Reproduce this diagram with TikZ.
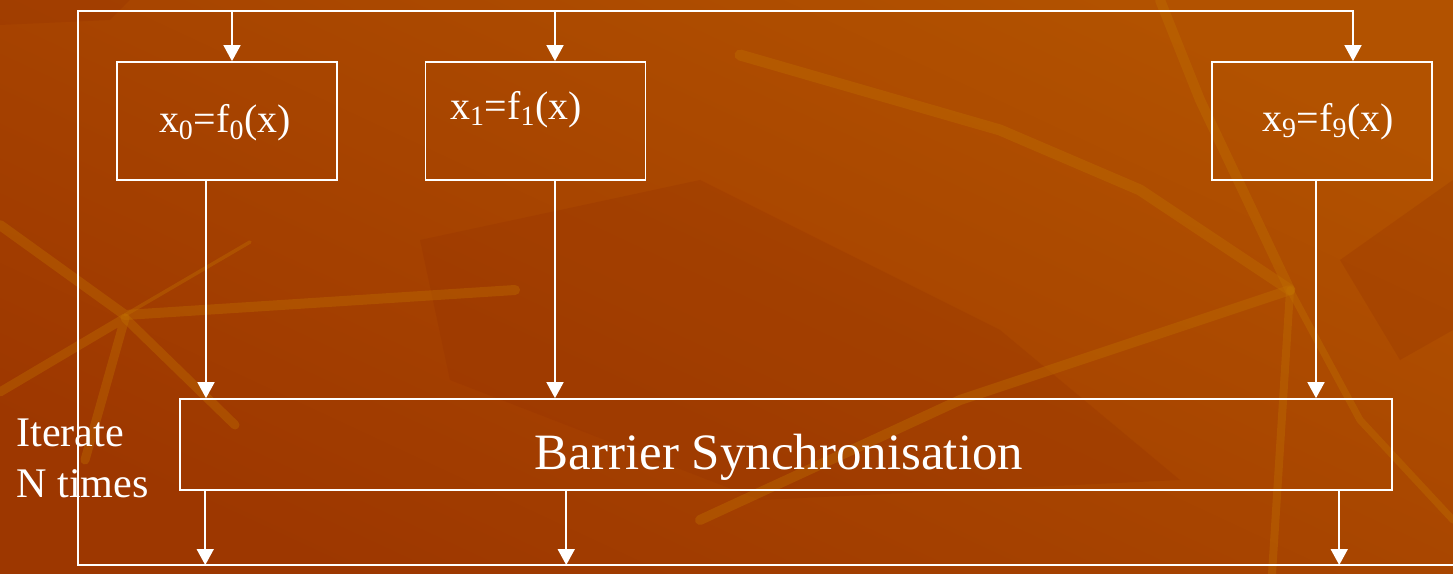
\documentclass[tikz,border=0pt]{standalone}
\usepackage{fontspec}
\setmainfont{Liberation Serif}
\usetikzlibrary{arrows.meta,positioning,calc}
\definecolor{fondoClaro}{RGB}{178,82,0}
\definecolor{fondoOscuro}{RGB}{157,55,0}
\definecolor{vetaClara}{RGB}{192,112,0}
\definecolor{vetaOscura}{RGB}{145,45,0}

\begin{document}
\begin{tikzpicture}[x=0.02cm, y=-0.02cm,
      task/.style    = {rectangle, draw=white, line width=1pt, inner sep=0pt,
          minimum width=4.4cm, minimum height=2.36cm},
      barrier/.style = {rectangle, draw=white, line width=1pt, inner sep=0pt,
          minimum width=24.24cm, minimum height=1.82cm},
      flow/.style    = {-{Triangle[length=0.32cm,width=0.34cm]}, draw=white, line width=1pt},
      lbl/.style     = {text=white, inner sep=0pt, font=\fontsize{22.7}{27}\selectfont},
      biglbl/.style  = {text=white, inner sep=0pt, font=\fontsize{29}{35}\selectfont},
      side/.style    = {text=white, inner sep=0pt, align=left, font=\fontsize{24}{29}\selectfont},
      vein/.style    = {draw=vetaClara, opacity=0.38, line cap=round, line join=round},
      shadow/.style  = {fill=vetaOscura, opacity=0.22},
    ]
    % ── Fondo ────────────────────────────────────────────────────
    \useasboundingbox (0,0) rectangle (1453,574);
    \shade[top color=fondoClaro, bottom color=fondoOscuro, shading angle=-25] (0,0) rectangle (1453,574);
    \fill[shadow] (0,0) -- (130,0) -- (110,20) -- (0,25) -- cycle;
    \fill[shadow] (420,240) -- (700,180) -- (1000,330) -- (1180,480) -- (760,500) -- (450,380) -- cycle;
    \fill[shadow] (1340,260) -- (1453,180) -- (1453,330) -- (1400,360) -- cycle;

    % ── Vetas ────────────────────────────────────────────────────
    \draw[vein, line width=0.2cm]  (0,225) -- (125,315) -- (515,290);
    \draw[vein, line width=0.18cm] (0,392) -- (125,318) -- (85,460);
    \draw[vein, line width=0.18cm] (125,318) -- (235,425);
    \draw[vein, line width=0.07cm] (125,315) -- (250,242);
    \draw[vein, line width=0.22cm] (740,55) -- (1000,130) -- (1140,190) -- (1290,290);
    \draw[vein, line width=0.2cm]  (1160,0) -- (1200,100) -- (1290,290);
    \draw[vein, line width=0.2cm]  (1290,290) -- (960,400) -- (700,520);
    \draw[vein, line width=0.16cm] (1290,290) -- (1272,574);
    \draw[vein, line width=0.14cm] (1290,290) -- (1360,420) -- (1453,520);

    % ── Tareas ───────────────────────────────────────────────────
    \node[task] (f0) at (227,121)   {};
    \node[task] (f1) at (535.5,121) {};
    \node[task] (f9) at (1322,121)  {};
    \node[lbl, anchor=base] (t0) at ($(f0.center)+(-2,12)$)    {x\textsubscript{0}=f\textsubscript{0}(x)};
    \node[lbl, anchor=base] (t1) at ($(f1.center)+(-19.5,-1)$) {x\textsubscript{1}=f\textsubscript{1}(x)};
    \node[lbl, anchor=base] (t9) at ($(f9.center)+(6,11)$)     {x\textsubscript{9}=f\textsubscript{9}(x)};

    % ── Barrera ──────────────────────────────────────────────────
    \node[barrier] (bar) at (786,444.5) {};
    \node[biglbl, anchor=base] (bartxt) at ($(bar.center)+(-7,25)$) {Barrier Synchronisation};
    \node[side, anchor=west] (iter) at (16,458) {Iterate\\N times};

    % ── Bucle ────────────────────────────────────────────────────
    \coordinate (tl) at (78,11);
    \coordinate (bl) at (78,565);
    \coordinate (br) at (1453,565);
    \coordinate (in0)  at ($(f0.north)+(5,0)$);
    \coordinate (in1)  at ($(f1.north)+(19.5,0)$);
    \coordinate (in9)  at ($(f9.north)+(31,0)$);
    \coordinate (out0) at ($(f0.south)+(-21,0)$);
    \coordinate (out1) at ($(f1.south)+(19.5,0)$);
    \coordinate (out9) at ($(f9.south)+(-6,0)$);
    \coordinate (dn0)  at ($(bar.south west)+(26,0)$);
    \coordinate (dn1)  at ($(bar.south west)+(387,0)$);
    \coordinate (dn9)  at ($(bar.south west)+(1160,0)$);

    \draw[flow] (br) -- (bl) -- (tl) -| (in9);
    \draw[flow] (tl -| in0) -- (in0);
    \draw[flow] (tl -| in1) -- (in1);

    \draw[flow] (out0) -- (out0 |- bar.north);
    \draw[flow] (out1) -- (out1 |- bar.north);
    \draw[flow] (out9) -- (out9 |- bar.north);

    \draw[flow] (dn0) -- (dn0 |- bl);
    \draw[flow] (dn1) -- (dn1 |- bl);
    \draw[flow] (dn9) -- (dn9 |- bl);

  \end{tikzpicture}
\end{document}
